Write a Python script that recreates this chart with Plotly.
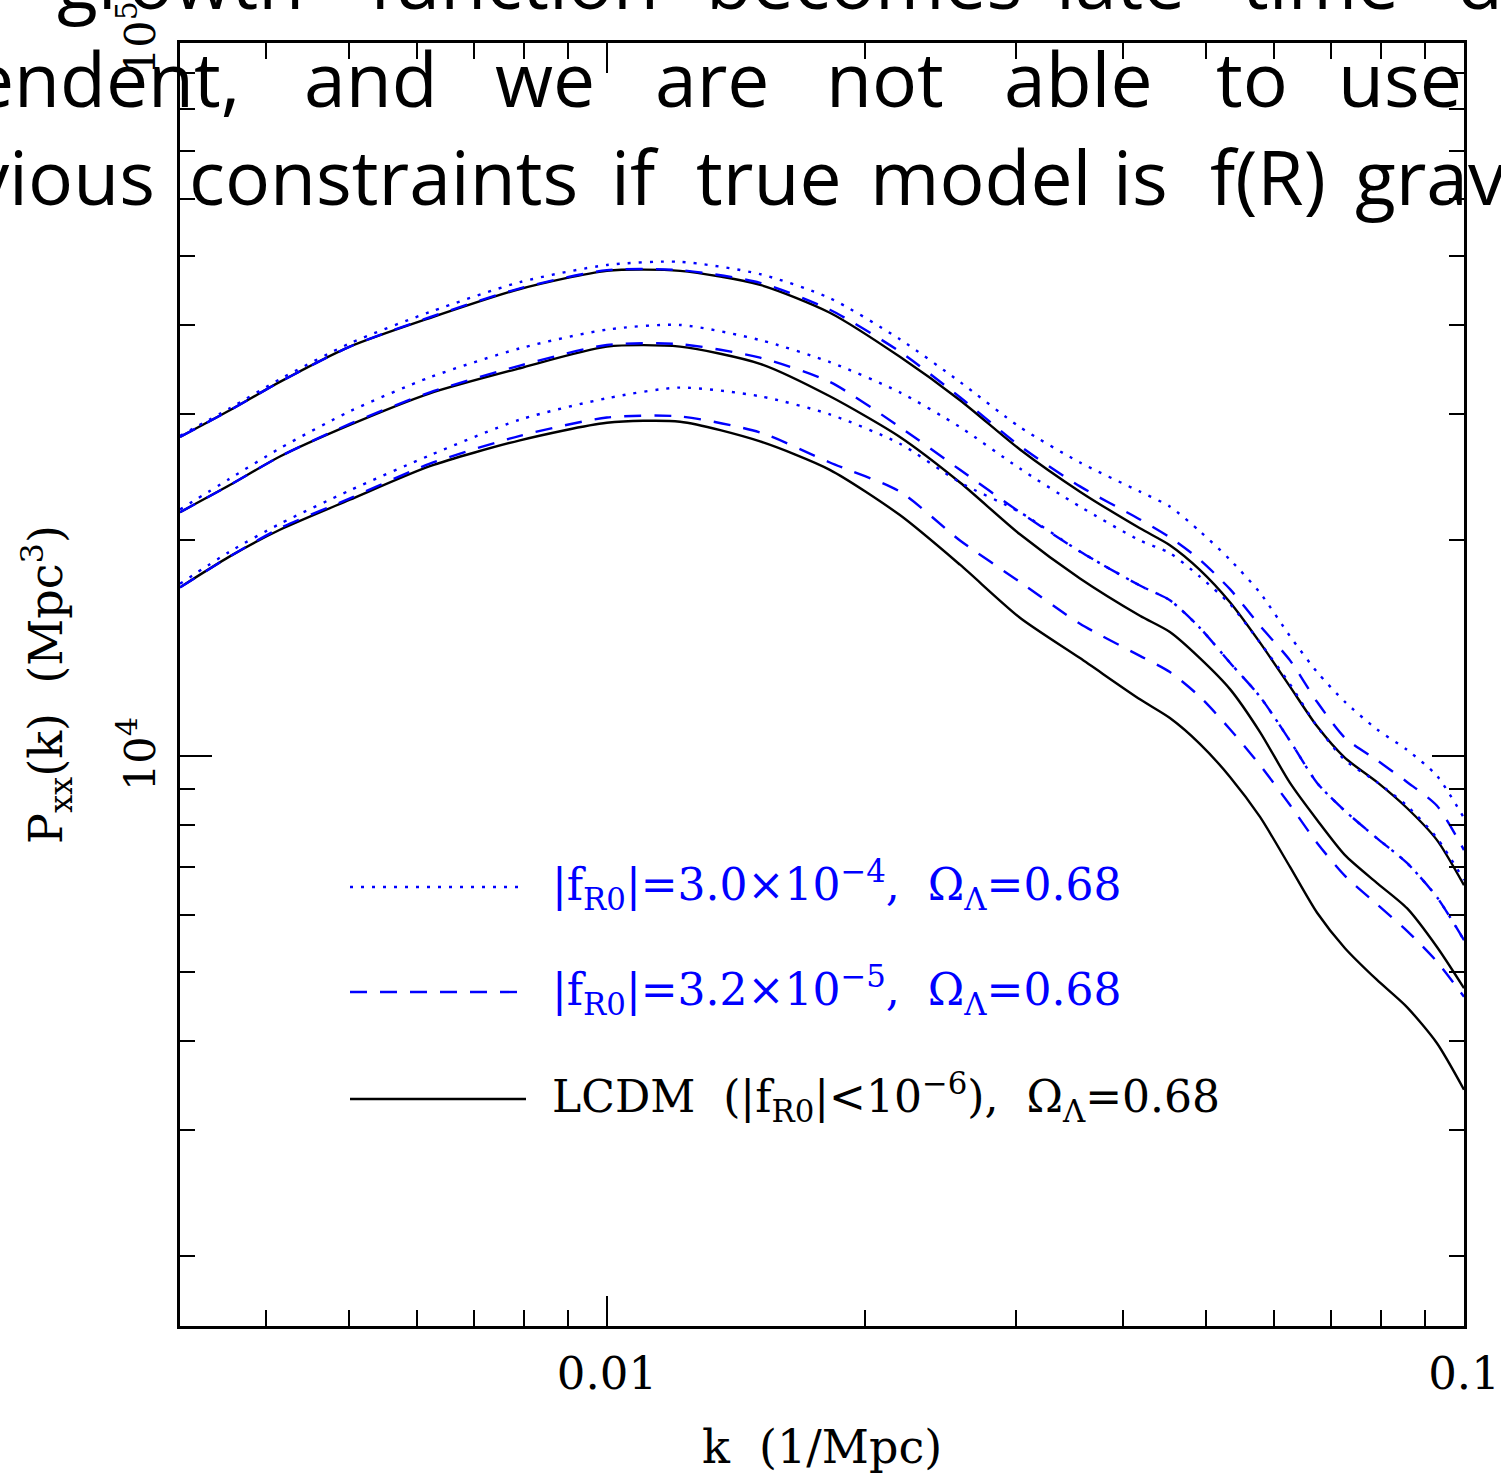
import math
import plotly.graph_objects as go

# ---------------- data ----------------
k = [0.003176, 0.003631, 0.004154, 0.005013, 0.006215, 0.007916, 0.0100, 0.01217,
     0.01509, 0.01820, 0.02197, 0.02582, 0.03033, 0.03564, 0.04187, 0.04538,
     0.04918, 0.05333, 0.05781, 0.06266, 0.06739, 0.07263, 0.07911, 0.08579,
     0.09300, 0.1000]

# upper group
top_lcdm = [27900, 30400, 33300, 37300, 40900, 44900, 47600, 47600, 45500, 41600, 36100, 31400, 26800,
            23400, 20800, 19700, 18200, 16400, 14400, 12500, 11000, 9940, 9200, 8460, 7630, 6600]
top_fr5 = [27900, 30400, 33300, 37300, 41000, 45000, 47700, 47700, 45800, 42000, 36700, 31700, 27100,
           23800, 21400, 20200, 18800, 17100, 15200, 13600, 11900, 10600, 9870, 9200, 8520, 7390]
top_fr4 = [28000, 30600, 33600, 37700, 41700, 45900, 48500, 49000, 47100, 43600, 38200, 33300, 28800,
           25700, 23400, 22300, 20600, 18800, 16900, 14700, 13100, 11900, 10900, 10200, 9380, 8190]
# middle group
mid_lcdm = [21900, 23900, 26200, 29000, 32100, 34800, 37300, 37300, 35300, 31800, 27900, 24100, 20400,
            17700, 15700, 14900, 13700, 12400, 10800, 9170, 8140, 7270, 6650, 6130, 5410, 4740]
mid_fr5 = [21900, 23900, 26200, 29100, 32200, 35100, 37500, 37600, 36000, 33300, 28800, 25100, 21900,
           19300, 17300, 16500, 15100, 13500, 12100, 10500, 9170, 8380, 7680, 7090, 6350, 5530]
mid_fr4 = [22100, 24400, 26900, 30300, 33800, 37100, 39400, 40000, 38100, 35500, 32200, 28800, 25200,
           22300, 20000, 19200, 17800, 16300, 14400, 12600, 11000, 9870, 9200, 8520, 7680, 6710]
# lower group
low_lcdm = [17200, 19000, 20700, 22800, 25400, 27600, 29200, 29300, 27500, 25100, 21700, 18500, 15600,
            13700, 12000, 11300, 10400, 9350, 8220, 7000, 6040, 5390, 4870, 4460, 3970, 3420]
low_fr5 = [17200, 19000, 20800, 22900, 25600, 28000, 29700, 29800, 28300, 25700, 23400, 20000, 17500,
           15300, 13800, 13100, 12100, 10900, 9710, 8540, 7560, 6800, 6210, 5700, 5160, 4610]
low_fr4 = [17400, 19300, 21100, 23500, 26300, 29500, 31600, 32700, 31800, 30000, 27300, 24100, 21900,
           19300, 17300, 16500, 15100, 13500, 12100, 10500, 9170, 8380, 7680, 7090, 6350, 5530]

x_major = [0.01, 0.1]
x_major_text = ["0.01", "0.1"]
x_minor = [0.004, 0.005, 0.006, 0.007, 0.008, 0.009,
           0.02, 0.03, 0.04, 0.05, 0.06, 0.07, 0.08, 0.09]
y_major = [1e4, 1e5]
y_major_text = ["10<sup>4</sup>", "10<sup>5</sup>"]
y_minor = [2000, 3000, 4000, 5000, 6000, 7000, 8000, 9000,
           20000, 30000, 40000, 50000, 60000, 70000, 80000, 90000]

legend_labels = [
    "|f<sub>R0</sub>|=3.0\u00d710<sup>\u22124</sup>,\u00a0\u00a0\u03a9<sub>\u039b</sub>=0.68",
    "|f<sub>R0</sub>|=3.2\u00d710<sup>\u22125</sup>,\u00a0\u00a0\u03a9<sub>\u039b</sub>=0.68",
    "LCDM\u00a0\u00a0(|f<sub>R0</sub>|&lt;10<sup>\u22126</sup>),\u00a0\u00a0\u03a9<sub>\u039b</sub>=0.68",
]

overlay_lines = [
    ["growth", "function", "becomes", "late", "time", "dependent"],
    ["dependent,", "and", "we", "are", "not", "able", "to", "use"],
    ["previous", "constraints", "if", "true", "model", "is", "f(R)", "gravity"],
]

# ---------------- layout geometry ----------------
W, H = 1501, 1478
L, R, T, B = 180, 37, 43, 152
PW, PH = W - L - R, H - T - B
Y_DEC = 716.0                      # pixels per decade on the y axis
Y_TOP = 4 + (756 - T) / Y_DEC      # log10 value at the top of the frame
Y_BOT = Y_TOP - PH / Y_DEC


def px(x):
    return (x - L) / PW


def py(y):
    return (H - B - y) / PH


BLUE = "#0000ff"
BLACK = "#000000"
DOT = "3px,8px"
DASH = "17px,13px"
SERIF = "DejaVu Serif"

fig = go.Figure()

styles = [
    (top_lcdm, "solid", BLACK), (mid_lcdm, "solid", BLACK), (low_lcdm, "solid", BLACK),
    (top_fr5, DASH, BLUE), (mid_fr5, DASH, BLUE), (low_fr5, DASH, BLUE),
    (top_fr4, DOT, BLUE), (mid_fr4, DOT, BLUE), (low_fr4, DOT, BLUE),
]
for vals, dash, col in styles:
    fig.add_trace(go.Scatter(
        x=k, y=vals, mode="lines", showlegend=False, hoverinfo="skip",
        line=dict(color=col, width=2.4, dash=dash, shape="spline", smoothing=0.7),
    ))

axis_common = dict(
    showline=True, linecolor=BLACK, linewidth=2.5, mirror="ticks", automargin=False,
    ticks="inside", tickcolor=BLACK, tickwidth=2, showgrid=False, zeroline=False,
    tickfont=dict(family=SERIF, size=45, color=BLACK),
)
fig.update_xaxes(
    type="log", range=[math.log10(k[0]), -1],
    tickvals=x_major, ticktext=x_major_text, ticklen=30, ticklabelstandoff=6,
    minor=dict(ticks="inside", ticklen=16, tickwidth=2, tickcolor=BLACK,
               tickvals=x_minor, showgrid=False),
    **axis_common,
)
fig.update_yaxes(
    type="log", range=[Y_BOT, Y_TOP],
    tickvals=y_major, ticktext=y_major_text, ticklen=32, showticklabels=False,
    minor=dict(ticks="inside", ticklen=15, tickwidth=2, tickcolor=BLACK,
               tickvals=y_minor, showgrid=False),
    **axis_common,
)

shapes = []
annotations = []

# y tick labels (rotated, as in the original; 10^5 sits just above the frame)
for v, txt in zip(y_major, y_major_text):
    ypix = 756 - (math.log10(v) - 4) * Y_DEC - 2
    annotations.append(dict(xref="paper", yref="paper", x=px(137), y=py(ypix),
                            xanchor="center", yanchor="middle", showarrow=False,
                            textangle=-90, text=txt,
                            font=dict(family=SERIF, size=43, color=BLACK)))

# legend drawn by hand (long line samples as in the original)
leg_rows = [(887, DOT, BLUE), (992, DASH, BLUE), (1099, "solid", BLACK)]
for (yy, dash, col), lab in zip(leg_rows, legend_labels):
    shapes.append(dict(type="line", xref="paper", yref="paper",
                       x0=px(350), x1=px(526), y0=py(yy), y1=py(yy),
                       line=dict(color=col, width=2.4, dash=dash)))
    annotations.append(dict(xref="paper", yref="paper", x=px(550), y=py(yy - 2),
                            xanchor="left", yanchor="middle", showarrow=False,
                            text=lab, font=dict(family=SERIF, size=44, color=col)))

# axis titles
annotations.append(dict(xref="paper", yref="paper", x=px(822), y=py(1447),
                        xanchor="center", yanchor="middle", showarrow=False,
                        text="k\u00a0\u00a0(1/Mpc)", font=dict(family=SERIF, size=46, color=BLACK)))
annotations.append(dict(xref="paper", yref="paper", x=px(46), y=py(685),
                        xanchor="center", yanchor="middle", showarrow=False, textangle=-90,
                        text="P<sub>xx</sub>(k)\u00a0\u00a0(Mpc<sup>3</sup>)",
                        font=dict(family=SERIF, size=46, color=BLACK)))

# overlaid slide text (justified lines, cropped by the page edges)
OVF = dict(family="Open Sans", size=75, color=BLACK)
line_specs = [
    (9, [(180, "center"), (514, "center"), (864, "center"), (1120, "center"),
         (1320, "center"), (1455, "left")]),
    (107, [(242, "right"), (371, "center"), (545, "center"), (712, "center"), (885, "center"),
           (1078, "center"), (1252, "center"), (1400, "center")]),
    (205, [(157, "right"), (383, "center"), (635, "center"), (769, "center"), (980, "center"),
           (1140, "center"), (1268, "center"), (1353, "left")]),
]
for (base, places), words in zip(line_specs, overlay_lines):
    for (xx, anc), w in zip(places, words):
        annotations.append(dict(xref="paper", yref="paper", x=px(xx), y=py(base - 29),
                                xanchor=anc, yanchor="middle", showarrow=False,
                                text=w, font=OVF))

fig.update_layout(
    width=W, height=H, autosize=False,
    margin=dict(l=L, r=R, t=T, b=B, pad=0),
    paper_bgcolor="white", plot_bgcolor="white",
    shapes=shapes, annotations=annotations, showlegend=False,
)

fig.write_html("out.html")
